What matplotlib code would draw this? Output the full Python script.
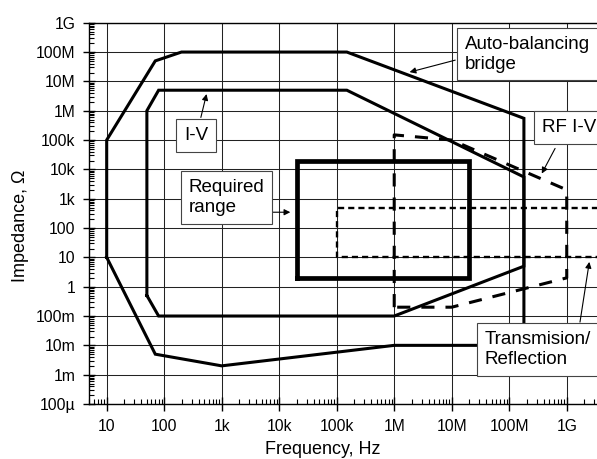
import numpy as np
import matplotlib
matplotlib.use('Agg')
import matplotlib.pyplot as plt
from matplotlib.ticker import FixedLocator, LogLocator, NullFormatter

plt.rcParams['font.family'] = ['Liberation Sans', 'DejaVu Sans']

# Auto-balancing bridge outline (frequency in Hz, impedance in ohm)
ab_freq = [10, 10, 70, 200, 150e3, 180e6, 180e6, 1e6, 1e3, 70, 10]
ab_imp = [10, 1e5, 5e7, 1e8, 1e8, 5.5e5, 1e-2, 1e-2, 2e-3, 5e-3, 10]

# I-V outline
iv_freq = [50, 50, 80, 150e3, 180e6, 180e6, 1e6, 80, 50]
iv_imp = [0.5, 1e6, 5e6, 5e6, 5.5e3, 5, 0.1, 0.1, 0.5]

# RF I-V outline
rf_freq = [1e6, 1e6, 10e6, 1e9, 1e9, 10e6, 1e6]
rf_imp = [0.2, 150e3, 100e3, 2e3, 2, 0.2, 0.2]

# Transmission/Reflection outline (open to the right)
tr_freq = [1e10, 1e5, 1e5, 1e10]
tr_imp = [500, 500, 10, 10]

# Required range box
req_freq = [20e3, 20e3, 20e6, 20e6, 20e3]
req_imp = [2, 20e3, 20e3, 2, 2]

x_ticks = [10, 100, 1e3, 1e4, 1e5, 1e6, 1e7, 1e8, 1e9]
x_labels = ['10', '100', '1k', '10k', '100k', '1M', '10M', '100M', '1G']
y_ticks = [1e-4, 1e-3, 1e-2, 1e-1, 1, 10, 100, 1e3, 1e4, 1e5, 1e6, 1e7, 1e8, 1e9]
y_labels = ['100\u00b5', '1m', '10m', '100m', '1', '10', '100', '1k', '10k',
            '100k', '1M', '10M', '100M', '1G']

fig = plt.figure(figsize=(5.97, 4.59), dpi=100)
ax = fig.add_axes([0.1497, 0.1198, 0.8576, 0.8307])
ax.set_xscale('log')
ax.set_yscale('log')
ax.set_xlim(5, 4e9)
ax.set_ylim(1e-4, 1e9)

ax.xaxis.set_major_locator(FixedLocator(x_ticks))
ax.set_xticklabels(x_labels)
ax.yaxis.set_major_locator(FixedLocator(y_ticks))
ax.set_yticklabels(y_labels)
ax.xaxis.set_minor_locator(LogLocator(base=10, subs=np.arange(2, 10), numticks=30))
ax.yaxis.set_minor_locator(LogLocator(base=10, subs=np.arange(2, 10), numticks=30))
ax.xaxis.set_minor_formatter(NullFormatter())
ax.yaxis.set_minor_formatter(NullFormatter())

ax.tick_params(axis='x', which='major', direction='inout', length=10, width=1, labelsize=11.3, pad=6)
ax.tick_params(axis='y', which='major', direction='inout', length=8, width=1, labelsize=11.3, pad=6)
ax.tick_params(which='minor', direction='in', length=3.5, width=0.8)
ax.spines['right'].set_visible(False)
for s in ['left', 'bottom', 'top']:
    ax.spines[s].set_linewidth(1.0)

ax.grid(True, which='major', color='#222222', lw=0.75)
ax.set_axisbelow(True)

ax.plot(ab_freq, ab_imp, color='black', lw=2.2, solid_joinstyle='miter', zorder=3)
ax.plot(iv_freq, iv_imp, color='black', lw=2.2, solid_joinstyle='miter', zorder=3)
ax.plot(rf_freq, rf_imp, color='black', lw=2.2, linestyle=(0, (4.3, 3.6)), zorder=3)
ax.plot(tr_freq, tr_imp, color='black', lw=1.7, linestyle=(0, (2.6, 1.7)), zorder=3)
ax.plot(req_freq, req_imp, color='black', lw=3.4, solid_joinstyle='miter', zorder=3)

box = dict(boxstyle='square,pad=0.42', facecolor='white', edgecolor='#444444', lw=0.8)
arrow = dict(arrowstyle='-|>', color='black', lw=0.8, mutation_scale=9, shrinkA=0, shrinkB=0)

ax.text(16.7e6, 8.4e7, 'Auto-balancing\nbridge', fontsize=13.5, ha='left', va='center',
        bbox=box, zorder=6, clip_on=False)
ax.annotate('', xy=(1.85e6, 2.07e7), xytext=(11.5e6, 5.3e7), arrowprops=arrow, zorder=5)

ax.text(377e6, 265e3, 'RF I-V', fontsize=13.5, ha='left', va='center',
        bbox=box, zorder=6, clip_on=False)
ax.annotate('', xy=(368e6, 7.2e3), xytext=(627e6, 51.7e3), arrowprops=arrow, zorder=5)

ax.text(355, 143.6e3, 'I-V', fontsize=13.5, ha='center', va='center', bbox=box, zorder=6)
ax.annotate('', xy=(545, 3.7e6), xytext=(434, 590e3), arrowprops=arrow, zorder=5)

ax.text(268, 1.1e3, 'Required\nrange', fontsize=13.5, ha='left', va='center', bbox=box, zorder=6)
ax.annotate('', xy=(15.6e3, 346), xytext=(7.3e3, 346), arrowprops=arrow, zorder=5)

ax.text(37e6, 7.2e-3, 'Transmision/\nReflection', fontsize=13.5, ha='left', va='center',
        bbox=box, zorder=6, clip_on=False)
ax.annotate('', xy=(2.47e9, 7.0), xytext=(1.7e9, 0.062), arrowprops=arrow, zorder=5)

fig.text(323 / 597, 4.5 / 459, 'Frequency, Hz', fontsize=13, ha='center', va='baseline')
fig.text(20.5 / 597, 1 - 225.8 / 459, 'Impedance, \u03a9', fontsize=13, rotation=90,
         ha='center', va='center')

fig.savefig('out.png', dpi=100)
